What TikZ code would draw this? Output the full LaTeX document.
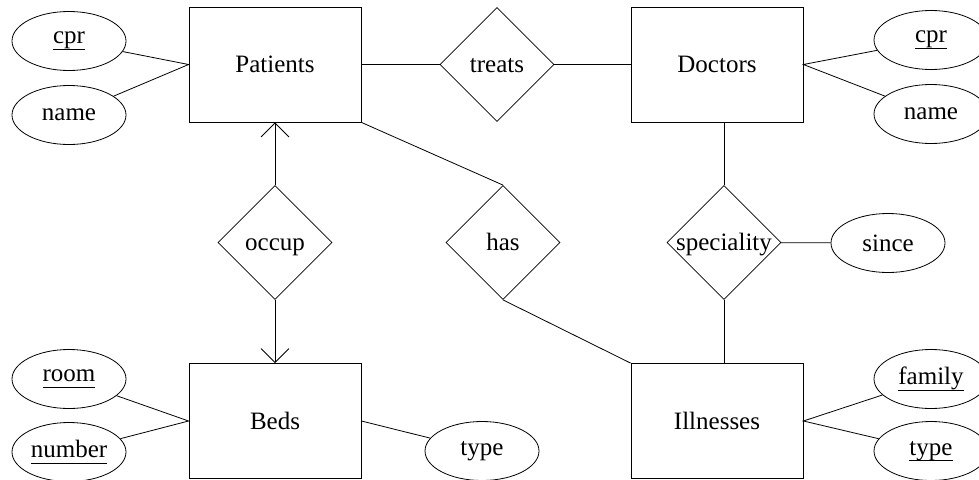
\documentclass[tikz,border=0pt]{standalone}
\usepackage{fontspec}
\setmainfont{Liberation Serif}
\usetikzlibrary{shapes.geometric,arrows.meta}

\newsavebox{\keybox}
\newcommand{\keyattr}[1]{\sbox{\keybox}{#1}\rlap{\rule[-6pt]{\wd\keybox}{0.9pt}}\usebox{\keybox}}

\begin{document}
\begin{tikzpicture}[x=1pt,y=-1pt,line width=0.8pt,
    >={Straight Barb[length=14pt,width=28pt]},
    erfont/.style={font=\fontsize{25}{30}\selectfont},
    entity/.style={draw,rectangle,minimum width=172pt,minimum height=115pt,inner sep=0pt,erfont},
    relation/.style={draw,diamond,minimum width=114pt,minimum height=114pt,inner sep=0pt,
        text height=17pt,text depth=1pt,erfont},
    attrib/.style={draw,ellipse,minimum width=114pt,minimum height=59pt,inner sep=0pt,erfont}]
        \useasboundingbox (0,0) rectangle (979,479);

        % draw the entities
        \node[entity] (patients)  at (275,64.5) {Patients};
        \node[entity] (doctors)   at (717,64.5) {Doctors};
        \node[entity] (beds)      at (275,421)  {Beds};
        \node[entity] (illnesses) at (717,421)  {Illnesses};

        % draw the relationships
        \node[relation] (treats)     at (497,64.5) {treats};
        \node[relation] (occup)      at (275,242.5) {occup};
        \node[relation] (has)        at (503,242.5) {has};
        \node[relation] (speciality) at (724,242.5) {speciality};

        % draw the attributes
        \node[attrib] (pcpr)   at (69,41)   {\keyattr{cpr}};
        \node[attrib] (pname)  at (69,115)  {name};
        \node[attrib] (dcpr)   at (931,40)  {\keyattr{cpr}};
        \node[attrib] (dname)  at (931,114) {name};
        \node[attrib] (room)   at (69,379)  {\keyattr{room}};
        \node[attrib] (number) at (69,452)  {\keyattr{number}};
        \node[attrib] (btype)  at (482,451) {type};
        \node[attrib] (since)  at (888,243) {since};
        \node[attrib] (family) at (931,379) {\keyattr{family}};
        \node[attrib] (itype)  at (931,451) {\keyattr{type}};

        % attributes to their entity
        \draw (pcpr) -- (patients.west) -- (pname);
        \draw (dcpr) -- (doctors.east) -- (dname);
        \draw (room) -- (beds.west) -- (number);
        \draw (beds.east) -- (btype);
        \draw (family) -- (illnesses.east) -- (itype);
        \draw (speciality) -- (since);

        % entities to relationships
        \draw (patients) -- (treats) -- (doctors);
        \draw[->] (occup) -- (patients);
        \draw[->] (occup) -- (beds);
        \draw (patients.south east) -- (has.north);
        \draw (has.south) -- (illnesses.north west);
        % the placement is better off centre here
        \draw (speciality.north) -- (speciality.north |- doctors.south);
        \draw (speciality.south) -- (speciality.south |- illnesses.north);
\end{tikzpicture}
\end{document}
